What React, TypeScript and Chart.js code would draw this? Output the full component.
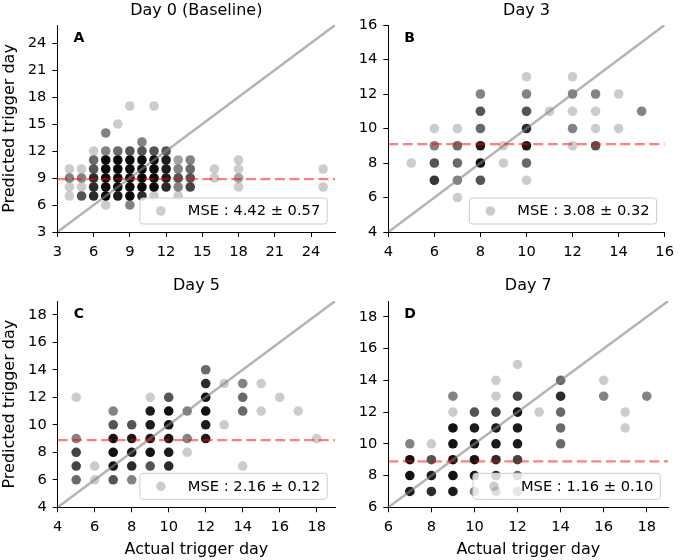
import { useEffect, useRef } from "react";
import { Chart, registerables } from "chart.js";

Chart.register(...registerables);

const FONT = "'DejaVu Sans', sans-serif";
Chart.defaults.font.family = FONT;

const xLabel = "Actual trigger day";
const yLabel = "Predicted trigger day";

// ---- Panel A: Day 0 (Baseline)
const titleA = "Day 0 (Baseline)";
const xA = [4,4,4,4, 5,5,5,5, 6,6,6,6,6,6, 7,7,7,7,7,7,7,7, 8,8,8,8,8,8,8, 9,9,9,9,9,9,9,9, 10,10,10,10,10,10,10, 11,11,11,11,11,11,11, 12,12,12,12,12, 13,13,13,13,13, 14,14,14,14, 16,16, 18,18,18,18, 25,25];
const yA = [10,9,8,7, 10,9,8,7, 12,11,10,9,8,7, 14,12,11,10,9,8,7,6, 15,12,11,10,9,8,7, 17,12,11,10,9,8,7,6, 13,12,11,10,9,8,7, 17,12,11,10,9,8,7, 12,11,10,9,8, 11,10,9,8,7, 11,10,9,8, 10,9, 11,10,9,8, 10,8];
const nA = [1,3,1,1, 1,3,1,5, 1,4,5,8,8,8, 3,3,15,15,15,15,15,1, 1,4,15,15,15,15,10, 1,5,15,15,15,15,15,3, 3,5,15,15,15,15,8, 1,5,15,15,15,15,1, 5,10,10,10,8, 2,3,5,3,1, 3,4,5,6, 1,1, 1,1,2,1, 1,1];
const ticksA = [3, 6, 9, 12, 15, 18, 21, 24];
const limA = [3, 26];
const meanA = 8.87;
const mseA = "MSE : 4.42 ± 0.57";

// ---- Panel B: Day 3
const titleB = "Day 3";
const xB = [5, 6,6,6,6, 7,7,7,7,7, 8,8,8,8,8,8, 9,9, 10,10,10,10,10,10,10, 11, 12,12,12,12,12, 13,13,13,13, 14,14, 15];
const yB = [8, 10,9,8,7, 10,9,8,7,6, 12,11,10,9,8,7, 9,8, 13,12,11,10,9,8,7, 11, 13,12,11,10,9, 12,11,10,9, 12,10, 11];
const nB = [1, 1,3,5,7, 1,4,4,3,1, 3,5,4,10,12,5, 1,1, 1,3,5,8,10,4,1, 1, 1,3,1,3,1, 3,1,1,5, 1,1, 3];
const ticksB = [4, 6, 8, 10, 12, 14, 16];
const limB = [4, 16];
const meanB = 9.1;
const mseB = "MSE : 3.08 ± 0.32";

// ---- Panel C: Day 5
const titleC = "Day 5";
const xC = [5,5,5,5,5, 6,6, 7,7,7,7,7,7, 8,8,8,8,8, 9,9,9,9,9,9, 10,10,10,10,10,10, 11,11,11, 12,12,12,12,12,12, 13,13, 14,14,14,14, 15,15, 16, 17, 18];
const yC = [12,9,8,7,6, 7,6, 11,10,9,8,7,6, 10,9,8,7,6, 12,11,10,9,8,7, 12,11,10,9,8,7, 11,9,8, 14,13,12,11,10,9, 13,10, 13,12,11,7, 13,11, 12, 11, 9];
const nC = [1,3,6,6,4, 1,1, 3,5,12,12,12,5, 5,10,10,8,3, 1,10,10,12,12,5, 5,12,12,12,10,8, 3,3,1, 4,8,12,12,10,10, 1,1, 3,4,4,1, 1,1, 1, 1, 1];
const ticksC = [4, 6, 8, 10, 12, 14, 16, 18];
const limC = [4, 19];
const meanC = 8.89;
const mseC = "MSE : 2.16 ± 0.12";

// ---- Panel D: Day 7
const titleD = "Day 7";
const xD = [7,7,7,7, 8,8,8,8, 9,9,9,9,9,9,9, 10,10,10,10,10,10, 11,11,11,11,11,11,11,11, 12,12,12,12,12,12,12,12, 13, 14,14,14,14,14, 16,16, 17,17, 18];
const yD = [10,9,8,7, 10,9,8,7, 13,12,11,10,9,8,7, 12,11,10,9,8,7, 14,13,12,11,10,9,8,7, 15,13,12,11,10,9,8,7, 12, 14,13,12,11,10, 14,13, 12,11, 13];
const nD = [3,12,12,10, 1,5,10,8, 3,1,12,12,12,12,10, 5,10,12,12,10,3, 1,1,6,10,10,8,8,5, 1,6,12,10,10,6,4,3, 1, 4,8,4,4,4, 1,3, 1,1, 3];
const ticksD = [6, 8, 10, 12, 14, 16, 18];
const limD = [6, 19];
const meanD = 8.89;
const mseD = "MSE : 1.16 ± 0.10";

const panelBox = {
  id: "panelBox",
  afterDatasetsDraw(chart: any, _args: any, opts: any) {
    const { ctx, chartArea } = chart;
    ctx.save();
    ctx.font = `14.67px ${FONT}`;
    const tw = ctx.measureText(opts.text).width;
    const w = 48 + tw + 7;
    const h = 26;
    const x = chartArea.right - 8 - w;
    const y = chartArea.bottom - 8 - h;
    const r = 3;
    ctx.beginPath();
    ctx.moveTo(x + r, y);
    ctx.lineTo(x + w - r, y);
    ctx.arcTo(x + w, y, x + w, y + r, r);
    ctx.lineTo(x + w, y + h - r);
    ctx.arcTo(x + w, y + h, x + w - r, y + h, r);
    ctx.lineTo(x + r, y + h);
    ctx.arcTo(x, y + h, x, y + h - r, r);
    ctx.lineTo(x, y + r);
    ctx.arcTo(x, y, x + r, y, r);
    ctx.closePath();
    ctx.fillStyle = "rgba(255,255,255,0.8)";
    ctx.fill();
    ctx.strokeStyle = "#cccccc";
    ctx.lineWidth = 1;
    ctx.stroke();
    ctx.beginPath();
    ctx.arc(x + 21, y + h / 2, 4.8, 0, Math.PI * 2);
    ctx.fillStyle = "rgba(0,0,0,0.2)";
    ctx.fill();
    ctx.fillStyle = "#000";
    ctx.textBaseline = "middle";
    ctx.textAlign = "left";
    ctx.fillText(opts.text, x + 48, y + h / 2 + 0.5);
    ctx.font = `bold 14px ${FONT}`;
    ctx.fillText(opts.letter, chartArea.left + 16, chartArea.top + 13.5);
    ctx.restore();
  },
};

type PanelProps = {
  letter: string;
  title: string;
  xs: number[];
  ys: number[];
  ns: number[];
  ticks: number[];
  lim: number[];
  mean: number;
  mse: string;
  left: number;
  top: number;
  w: number;
  h: number;
  yWidth: number;
  xHeight: number;
  padRight: number;
  titleGap: number;
  showX: boolean;
  showY: boolean;
};

function PanelChart(p: PanelProps) {
  const ref = useRef<HTMLCanvasElement>(null);
  useEffect(() => {
    const pts = p.xs.map((x, i) => ({ x, y: p.ys[i] }));
    const colors = p.ns.map((n) => `rgba(0,0,0,${(1 - Math.pow(0.8, n)).toFixed(3)})`);
    const [lo, hi] = p.lim;
    const tickFont = { family: FONT, size: 14.67 };
    const chart = new Chart(ref.current!, {
      type: "scatter",
      data: {
        datasets: [
          {
            data: pts,
            pointRadius: 4.8,
            pointBackgroundColor: colors,
            pointBorderWidth: 0,
            pointBorderColor: "rgba(0,0,0,0)",
            order: 3,
          } as any,
          {
            data: [{ x: lo, y: lo }, { x: hi, y: hi }],
            showLine: true,
            borderColor: "rgba(128,128,128,0.6)",
            borderWidth: 2.5,
            pointRadius: 0,
            order: 2,
          },
          {
            data: [{ x: lo, y: p.mean }, { x: hi, y: p.mean }],
            showLine: true,
            borderColor: "rgba(255,0,0,0.5)",
            borderWidth: 2.2,
            borderDash: [10, 4.5],
            pointRadius: 0,
            order: 1,
          },
        ],
      },
      options: {
        responsive: false,
        animation: false,
        devicePixelRatio: 1,
        events: [],
        layout: { padding: { top: 0, right: p.padRight, bottom: 0, left: 0 } },
        plugins: {
          legend: { display: false },
          tooltip: { enabled: false },
          title: {
            display: true,
            text: p.title,
            fullSize: false,
            color: "#000",
            font: { family: FONT, size: 16, weight: "normal" },
            padding: { top: 1, bottom: p.titleGap },
          },
          panelBox: { text: p.mse, letter: p.letter },
        } as any,
        scales: {
          x: {
            type: "linear",
            min: lo,
            max: hi,
            afterBuildTicks: (s: any) => {
              s.ticks = p.ticks.map((v) => ({ value: v }));
            },
            afterFit: (s: any) => {
              s.height = p.xHeight;
            },
            ticks: { font: tickFont, color: "#000", padding: 6, autoSkip: false, maxRotation: 0 },
            grid: { drawOnChartArea: false, drawTicks: true, tickLength: 5, color: "#000", lineWidth: 1 },
            border: { display: true, color: "#000", width: 1 },
            title: {
              display: p.showX,
              text: xLabel,
              color: "#000",
              font: { family: FONT, size: 16 },
              padding: { top: 0, bottom: 0.5 },
            },
          },
          y: {
            type: "linear",
            min: lo,
            max: hi,
            afterBuildTicks: (s: any) => {
              s.ticks = p.ticks.map((v) => ({ value: v }));
            },
            afterFit: (s: any) => {
              s.width = p.yWidth;
            },
            ticks: { font: tickFont, color: "#000", padding: 6, autoSkip: false },
            grid: { drawOnChartArea: false, drawTicks: true, tickLength: 5, color: "#000", lineWidth: 1 },
            border: { display: true, color: "#000", width: 1 },
            title: {
              display: p.showY,
              text: yLabel,
              color: "#000",
              font: { family: FONT, size: 16 },
              padding: { top: 0, bottom: 0 },
            },
          },
        } as any,
      },
      plugins: [panelBox],
    });
    return () => chart.destroy();
  }, []);
  return (
    <canvas
      ref={ref}
      width={p.w}
      height={p.h}
      style={{ position: "absolute", left: p.left, top: p.top, width: p.w, height: p.h }}
    />
  );
}

export default function App() {
  return (
    <div style={{ position: "fixed", left: 0, top: 0, width: 680, height: 560, background: "#fff" }}>
      <PanelChart letter="A" title={titleA} xs={xA} ys={yA} ns={nA} ticks={ticksA} lim={limA} mean={meanA} mse={mseA}
        left={0} top={0} w={340} h={275} yWidth={57.4} xHeight={43} padRight={2} titleGap={4.8} showX={false} showY={true} />
      <PanelChart letter="B" title={titleB} xs={xB} ys={yB} ns={nB} ticks={ticksB} lim={limB} mean={meanB} mse={mseB}
        left={340} top={0} w={340} h={275} yWidth={48.3} xHeight={43} padRight={11.7} titleGap={4.8} showX={false} showY={false} />
      <PanelChart letter="C" title={titleC} xs={xC} ys={yC} ns={nC} ticks={ticksC} lim={limC} mean={meanC} mse={mseC}
        left={0} top={275} w={340} h={285} yWidth={57.7} xHeight={52.7} padRight={3} titleGap={5.8} showX={true} showY={true} />
      <PanelChart letter="D" title={titleD} xs={xD} ys={yD} ns={nD} ticks={ticksD} lim={limD} mean={meanD} mse={mseD}
        left={340} top={275} w={340} h={285} yWidth={48.3} xHeight={52.7} padRight={11.7} titleGap={5.8} showX={true} showY={false} />
    </div>
  );
}
